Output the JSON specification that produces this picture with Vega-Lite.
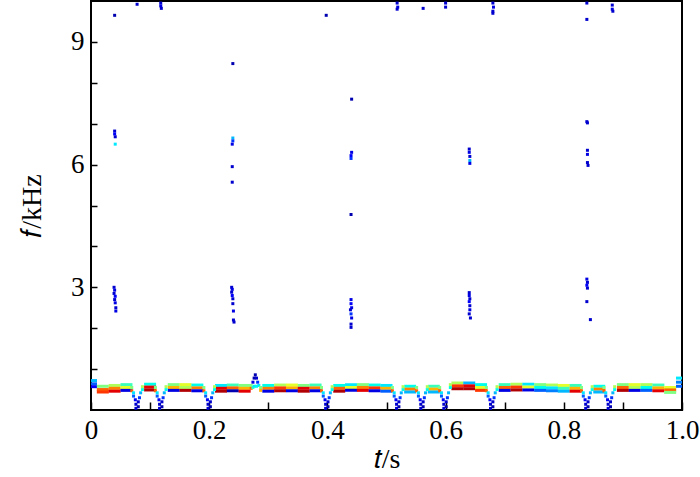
{
"$schema": "https://vega.github.io/schema/vega-lite/v6.json",
"width": 591, "height": 409,
"autosize": {"type": "none"},
"padding": {"left": 91, "top": 1, "right": 18, "bottom": 67},
"background": "white",
"config": {
 "view": {"stroke": "#000", "strokeWidth": 2},
 "axis": {"labelFont": "Liberation Serif", "labelFontSize": 27, "labelColor": "#000", "titleFont": "Liberation Serif", "titleFontSize": 28, "titleFontWeight": "normal", "titleColor": "#000", "tickColor": "#000", "tickWidth": 1.5, "domain": false, "grid": false}
},
"datasets": {
 "band": [
  {"t":0,"f":0.72,"m":0.3},{"t":0,"f":0.64,"m":0.2},{"t":0,"f":0.57,"m":0.12},
  {"t":0.02,"f":0.58,"m":0.5},{"t":0.02,"f":0.5,"m":0.8},{"t":0.02,"f":0.44,"m":0.85},
  {"t":0.04,"f":0.6,"m":0.55},{"t":0.04,"f":0.53,"m":0.75},{"t":0.04,"f":0.46,"m":0.9},
  {"t":0.06,"f":0.62,"m":0.45},{"t":0.06,"f":0.55,"m":0.6},{"t":0.06,"f":0.48,"m":0.1},
  {"t":0.1,"f":0.63,"m":0.4},{"t":0.1,"f":0.56,"m":0.9},{"t":0.1,"f":0.49,"m":0.95},
  {"t":0.14,"f":0.62,"m":0.5},{"t":0.14,"f":0.55,"m":0.7},{"t":0.14,"f":0.48,"m":0.1},
  {"t":0.16,"f":0.62,"m":0.6},{"t":0.16,"f":0.55,"m":0.55},{"t":0.16,"f":0.48,"m":0.95},
  {"t":0.18,"f":0.61,"m":0.4},{"t":0.18,"f":0.54,"m":0.75},{"t":0.18,"f":0.47,"m":0.1},
  {"t":0.22,"f":0.6,"m":0.35},{"t":0.22,"f":0.53,"m":0.9},{"t":0.22,"f":0.46,"m":0.95},
  {"t":0.24,"f":0.61,"m":0.45},{"t":0.24,"f":0.54,"m":0.8},{"t":0.24,"f":0.47,"m":0.05},
  {"t":0.26,"f":0.6,"m":0.5},{"t":0.26,"f":0.53,"m":0.7},{"t":0.26,"f":0.46,"m":0.9},
  {"t":0.3,"f":0.6,"m":0.4},{"t":0.3,"f":0.53,"m":0.75},{"t":0.3,"f":0.46,"m":0.1},
  {"t":0.32,"f":0.61,"m":0.55},{"t":0.32,"f":0.54,"m":0.85},{"t":0.32,"f":0.47,"m":0.95},
  {"t":0.34,"f":0.61,"m":0.6},{"t":0.34,"f":0.54,"m":0.7},{"t":0.34,"f":0.47,"m":0.1},
  {"t":0.36,"f":0.6,"m":0.5},{"t":0.36,"f":0.53,"m":0.9},{"t":0.36,"f":0.46,"m":0.95},
  {"t":0.38,"f":0.61,"m":0.45},{"t":0.38,"f":0.54,"m":0.75},{"t":0.38,"f":0.47,"m":0.1},
  {"t":0.42,"f":0.6,"m":0.4},{"t":0.42,"f":0.53,"m":0.8},{"t":0.42,"f":0.46,"m":0.95},
  {"t":0.44,"f":0.62,"m":0.35},{"t":0.44,"f":0.55,"m":0.6},{"t":0.44,"f":0.48,"m":0.1},
  {"t":0.46,"f":0.62,"m":0.5},{"t":0.46,"f":0.55,"m":0.75},{"t":0.46,"f":0.48,"m":0.9},
  {"t":0.48,"f":0.61,"m":0.4},{"t":0.48,"f":0.54,"m":0.85},{"t":0.48,"f":0.47,"m":0.1},
  {"t":0.5,"f":0.6,"m":0.35},{"t":0.5,"f":0.53,"m":0.7},{"t":0.5,"f":0.46,"m":0.2},
  {"t":0.54,"f":0.58,"m":0.4},{"t":0.54,"f":0.51,"m":0.75},{"t":0.54,"f":0.44,"m":0.3},
  {"t":0.58,"f":0.58,"m":0.45},{"t":0.58,"f":0.51,"m":0.7},{"t":0.58,"f":0.44,"m":0.3},
  {"t":0.62,"f":0.66,"m":0.55},{"t":0.62,"f":0.59,"m":0.85},{"t":0.62,"f":0.52,"m":0.95},
  {"t":0.64,"f":0.66,"m":0.3},{"t":0.64,"f":0.59,"m":0.9},{"t":0.64,"f":0.52,"m":0.95},
  {"t":0.66,"f":0.62,"m":0.4},{"t":0.66,"f":0.55,"m":0.6},{"t":0.66,"f":0.48,"m":0.85},
  {"t":0.7,"f":0.62,"m":0.45},{"t":0.7,"f":0.55,"m":0.8},{"t":0.7,"f":0.48,"m":0.1},
  {"t":0.72,"f":0.63,"m":0.55},{"t":0.72,"f":0.56,"m":0.85},{"t":0.72,"f":0.49,"m":0.95},
  {"t":0.74,"f":0.63,"m":0.35},{"t":0.74,"f":0.56,"m":0.6},{"t":0.74,"f":0.49,"m":0.1},
  {"t":0.76,"f":0.62,"m":0.5},{"t":0.76,"f":0.55,"m":0.4},{"t":0.76,"f":0.48,"m":0.2},
  {"t":0.78,"f":0.61,"m":0.55},{"t":0.78,"f":0.54,"m":0.35},{"t":0.78,"f":0.47,"m":0.25},
  {"t":0.8,"f":0.6,"m":0.6},{"t":0.8,"f":0.53,"m":0.45},{"t":0.8,"f":0.46,"m":0.3},
  {"t":0.82,"f":0.6,"m":0.45},{"t":0.82,"f":0.53,"m":0.7},{"t":0.82,"f":0.46,"m":0.9},
  {"t":0.86,"f":0.58,"m":0.4},{"t":0.86,"f":0.51,"m":0.75},{"t":0.86,"f":0.44,"m":0.3},
  {"t":0.9,"f":0.62,"m":0.5},{"t":0.9,"f":0.55,"m":0.8},{"t":0.9,"f":0.48,"m":0.95},
  {"t":0.92,"f":0.62,"m":0.6},{"t":0.92,"f":0.55,"m":0.55},{"t":0.92,"f":0.48,"m":0.1},
  {"t":0.94,"f":0.62,"m":0.55},{"t":0.94,"f":0.55,"m":0.4},{"t":0.94,"f":0.48,"m":0.2},
  {"t":0.96,"f":0.61,"m":0.45},{"t":0.96,"f":0.54,"m":0.7},{"t":0.96,"f":0.47,"m":0.9},
  {"t":0.98,"f":0.55,"m":0.6},{"t":0.98,"f":0.49,"m":0.8},{"t":0.98,"f":0.43,"m":0.5},
  {"t":1,"f":0.78,"m":0.35},{"t":1,"f":0.68,"m":0.25},{"t":1,"f":0.58,"m":0.2}
 ],
 "dots": [
  {"t":0.069,"f":0.55,"m":0.5},{"t":0.069,"f":0.47,"m":0.8},{"t":0.072,"f":0.42,"m":0.35},{"t":0.072,"f":0.34,"m":0.2},{"t":0.075,"f":0.25,"m":0.12},{"t":0.076,"f":0.14,"m":0.08},{"t":0.076,"f":0.04,"m":0.08},{"t":0.08,"f":0.2,"m":0.08},{"t":0.08,"f":0.08,"m":0.05},{"t":0.082,"f":0.3,"m":0.15},{"t":0.084,"f":0.42,"m":0.3},{"t":0.087,"f":0.5,"m":0.4},{"t":0.087,"f":0.57,"m":0.55},
  {"t":0.109,"f":0.55,"m":0.5},{"t":0.109,"f":0.47,"m":0.8},{"t":0.112,"f":0.42,"m":0.35},{"t":0.112,"f":0.34,"m":0.2},{"t":0.115,"f":0.25,"m":0.12},{"t":0.116,"f":0.14,"m":0.08},{"t":0.116,"f":0.04,"m":0.08},{"t":0.12,"f":0.2,"m":0.08},{"t":0.12,"f":0.08,"m":0.05},{"t":0.122,"f":0.3,"m":0.15},{"t":0.124,"f":0.42,"m":0.3},{"t":0.127,"f":0.5,"m":0.4},{"t":0.127,"f":0.57,"m":0.55},
  {"t":0.191,"f":0.55,"m":0.5},{"t":0.191,"f":0.47,"m":0.8},{"t":0.194,"f":0.42,"m":0.35},{"t":0.194,"f":0.34,"m":0.2},{"t":0.197,"f":0.25,"m":0.12},{"t":0.198,"f":0.14,"m":0.08},{"t":0.198,"f":0.04,"m":0.08},{"t":0.202,"f":0.2,"m":0.08},{"t":0.202,"f":0.08,"m":0.05},{"t":0.204,"f":0.3,"m":0.15},{"t":0.206,"f":0.42,"m":0.3},{"t":0.209,"f":0.5,"m":0.4},{"t":0.209,"f":0.57,"m":0.55},
  {"t":0.39,"f":0.55,"m":0.5},{"t":0.39,"f":0.47,"m":0.8},{"t":0.393,"f":0.42,"m":0.35},{"t":0.393,"f":0.34,"m":0.2},{"t":0.396,"f":0.25,"m":0.12},{"t":0.397,"f":0.14,"m":0.08},{"t":0.397,"f":0.04,"m":0.08},{"t":0.401,"f":0.2,"m":0.08},{"t":0.401,"f":0.08,"m":0.05},{"t":0.403,"f":0.3,"m":0.15},{"t":0.405,"f":0.42,"m":0.3},{"t":0.408,"f":0.5,"m":0.4},{"t":0.408,"f":0.57,"m":0.55},
  {"t":0.51,"f":0.55,"m":0.5},{"t":0.51,"f":0.47,"m":0.8},{"t":0.513,"f":0.42,"m":0.35},{"t":0.513,"f":0.34,"m":0.2},{"t":0.516,"f":0.25,"m":0.12},{"t":0.517,"f":0.14,"m":0.08},{"t":0.517,"f":0.04,"m":0.08},{"t":0.521,"f":0.2,"m":0.08},{"t":0.521,"f":0.08,"m":0.05},{"t":0.523,"f":0.3,"m":0.15},{"t":0.525,"f":0.42,"m":0.3},{"t":0.528,"f":0.5,"m":0.4},{"t":0.528,"f":0.57,"m":0.55},
  {"t":0.551,"f":0.55,"m":0.5},{"t":0.551,"f":0.47,"m":0.8},{"t":0.554,"f":0.42,"m":0.35},{"t":0.554,"f":0.34,"m":0.2},{"t":0.557,"f":0.25,"m":0.12},{"t":0.558,"f":0.14,"m":0.08},{"t":0.558,"f":0.04,"m":0.08},{"t":0.562,"f":0.2,"m":0.08},{"t":0.562,"f":0.08,"m":0.05},{"t":0.564,"f":0.3,"m":0.15},{"t":0.566,"f":0.42,"m":0.3},{"t":0.569,"f":0.5,"m":0.4},{"t":0.569,"f":0.57,"m":0.55},
  {"t":0.59,"f":0.55,"m":0.5},{"t":0.59,"f":0.47,"m":0.8},{"t":0.593,"f":0.42,"m":0.35},{"t":0.593,"f":0.34,"m":0.2},{"t":0.596,"f":0.25,"m":0.12},{"t":0.597,"f":0.14,"m":0.08},{"t":0.597,"f":0.04,"m":0.08},{"t":0.601,"f":0.2,"m":0.08},{"t":0.601,"f":0.08,"m":0.05},{"t":0.603,"f":0.3,"m":0.15},{"t":0.605,"f":0.42,"m":0.3},{"t":0.608,"f":0.55,"m":0.4},{"t":0.608,"f":0.62,"m":0.55},
  {"t":0.669,"f":0.55,"m":0.5},{"t":0.669,"f":0.47,"m":0.8},{"t":0.672,"f":0.42,"m":0.35},{"t":0.672,"f":0.34,"m":0.2},{"t":0.675,"f":0.25,"m":0.12},{"t":0.676,"f":0.14,"m":0.08},{"t":0.676,"f":0.04,"m":0.08},{"t":0.68,"f":0.2,"m":0.08},{"t":0.68,"f":0.08,"m":0.05},{"t":0.682,"f":0.3,"m":0.15},{"t":0.684,"f":0.42,"m":0.3},{"t":0.687,"f":0.5,"m":0.4},{"t":0.687,"f":0.57,"m":0.55},
  {"t":0.83,"f":0.55,"m":0.5},{"t":0.83,"f":0.47,"m":0.8},{"t":0.833,"f":0.42,"m":0.35},{"t":0.833,"f":0.34,"m":0.2},{"t":0.836,"f":0.25,"m":0.12},{"t":0.837,"f":0.14,"m":0.08},{"t":0.837,"f":0.04,"m":0.08},{"t":0.841,"f":0.2,"m":0.08},{"t":0.841,"f":0.08,"m":0.05},{"t":0.843,"f":0.3,"m":0.15},{"t":0.845,"f":0.42,"m":0.3},{"t":0.848,"f":0.5,"m":0.4},{"t":0.848,"f":0.57,"m":0.55},
  {"t":0.868,"f":0.55,"m":0.5},{"t":0.868,"f":0.47,"m":0.8},{"t":0.871,"f":0.42,"m":0.35},{"t":0.871,"f":0.34,"m":0.2},{"t":0.874,"f":0.25,"m":0.12},{"t":0.875,"f":0.14,"m":0.08},{"t":0.875,"f":0.04,"m":0.08},{"t":0.879,"f":0.2,"m":0.08},{"t":0.879,"f":0.08,"m":0.05},{"t":0.881,"f":0.3,"m":0.15},{"t":0.883,"f":0.42,"m":0.3},{"t":0.886,"f":0.5,"m":0.4},{"t":0.886,"f":0.57,"m":0.55},
  {"t":0.271,"f":0.6,"m":0.5},{"t":0.271,"f":0.53,"m":0.8},{"t":0.274,"f":0.68,"m":0.1},{"t":0.274,"f":0.55,"m":0.45},{"t":0.276,"f":0.78,"m":0.05},{"t":0.276,"f":0.58,"m":0.35},{"t":0.278,"f":0.86,"m":0.05},{"t":0.28,"f":0.78,"m":0.08},{"t":0.28,"f":0.58,"m":0.4},{"t":0.282,"f":0.68,"m":0.15},{"t":0.284,"f":0.6,"m":0.35},{"t":0.287,"f":0.55,"m":0.5},{"t":0.287,"f":0.48,"m":0.7},
  {"t":0.039,"f":3.0,"m":0.08},{"t":0.04,"f":2.93,"m":0.1},{"t":0.039,"f":2.85,"m":0.08},{"t":0.041,"f":2.78,"m":0.12},{"t":0.04,"f":2.7,"m":0.08},{"t":0.041,"f":2.62,"m":0.1},{"t":0.042,"f":2.5,"m":0.08},{"t":0.042,"f":2.42,"m":0.1},
  {"t":0.04,"f":6.82,"m":0.08},{"t":0.04,"f":6.75,"m":0.12},{"t":0.041,"f":6.68,"m":0.08},{"t":0.041,"f":6.5,"m":0.35},{"t":0.04,"f":9.65,"m":0.05},
  {"t":0.078,"f":9.92,"m":0.08},{"t":0.118,"f":9.95,"m":0.08},{"t":0.118,"f":9.88,"m":0.1},{"t":0.119,"f":9.82,"m":0.08},
  {"t":0.238,"f":3.0,"m":0.08},{"t":0.239,"f":2.95,"m":0.1},{"t":0.238,"f":2.88,"m":0.08},{"t":0.239,"f":2.8,"m":0.12},{"t":0.24,"f":2.72,"m":0.08},{"t":0.24,"f":2.6,"m":0.08},{"t":0.241,"f":2.42,"m":0.1},{"t":0.241,"f":2.2,"m":0.08},{"t":0.242,"f":2.15,"m":0.08},
  {"t":0.24,"f":6.65,"m":0.3},{"t":0.24,"f":6.58,"m":0.15},{"t":0.239,"f":6.5,"m":0.1},{"t":0.239,"f":5.95,"m":0.08},{"t":0.239,"f":5.57,"m":0.08},{"t":0.24,"f":8.47,"m":0.05},
  {"t":0.398,"f":9.65,"m":0.05},
  {"t":0.44,"f":2.7,"m":0.1},{"t":0.44,"f":2.6,"m":0.12},{"t":0.441,"f":2.5,"m":0.1},{"t":0.439,"f":2.45,"m":0.08},{"t":0.44,"f":2.35,"m":0.15},{"t":0.441,"f":2.25,"m":0.1},{"t":0.44,"f":2.1,"m":0.08},{"t":0.44,"f":2.02,"m":0.08},
  {"t":0.441,"f":6.3,"m":0.1},{"t":0.44,"f":6.22,"m":0.12},{"t":0.44,"f":6.15,"m":0.15},{"t":0.441,"f":7.6,"m":0.05},{"t":0.44,"f":4.78,"m":0.05},
  {"t":0.518,"f":9.95,"m":0.08},{"t":0.519,"f":9.85,"m":0.1},{"t":0.518,"f":9.8,"m":0.08},{"t":0.562,"f":9.82,"m":0.08},{"t":0.6,"f":9.95,"m":0.08},{"t":0.6,"f":9.85,"m":0.08},
  {"t":0.68,"f":9.95,"m":0.08},{"t":0.681,"f":9.85,"m":0.1},{"t":0.68,"f":9.75,"m":0.08},{"t":0.68,"f":9.7,"m":0.08},
  {"t":0.64,"f":2.87,"m":0.08},{"t":0.64,"f":2.8,"m":0.1},{"t":0.641,"f":2.72,"m":0.08},{"t":0.64,"f":2.65,"m":0.12},{"t":0.641,"f":2.55,"m":0.08},{"t":0.641,"f":2.45,"m":0.1},{"t":0.64,"f":2.35,"m":0.08},{"t":0.642,"f":2.25,"m":0.08},
  {"t":0.64,"f":6.38,"m":0.08},{"t":0.64,"f":6.3,"m":0.1},{"t":0.641,"f":6.2,"m":0.08},{"t":0.641,"f":6.1,"m":0.3},{"t":0.641,"f":6.03,"m":0.1},
  {"t":0.839,"f":3.2,"m":0.1},{"t":0.84,"f":3.12,"m":0.08},{"t":0.839,"f":3.05,"m":0.12},{"t":0.84,"f":2.98,"m":0.08},{"t":0.839,"f":2.65,"m":0.08},{"t":0.845,"f":2.21,"m":0.08},
  {"t":0.839,"f":7.05,"m":0.08},{"t":0.84,"f":7.02,"m":0.08},{"t":0.84,"f":6.35,"m":0.08},{"t":0.84,"f":6.25,"m":0.1},{"t":0.84,"f":6.05,"m":0.08},{"t":0.841,"f":5.98,"m":0.08},
  {"t":0.839,"f":9.95,"m":0.08},{"t":0.839,"f":9.55,"m":0.08},{"t":0.882,"f":9.9,"m":0.08},{"t":0.882,"f":9.8,"m":0.1},{"t":0.883,"f":9.75,"m":0.08}
 ]
},
"encoding": {
 "x": {"field": "t", "type": "quantitative", "scale": {"domain": [0, 1], "nice": false, "zero": false},
  "axis": {"title": "𝑡/s", "values": [0,0.1,0.2,0.3,0.4,0.5,0.6,0.7,0.8,0.9,1.0], "tickSize": -8, "labelPadding": 15, "titlePadding": 2,
   "labelExpr": "datum.value == 0 ? '0' : (round(datum.value*10) % 2 == 0 ? format(datum.value, '.1f') : '')", "labelFlush": false}},
 "y": {"field": "f", "type": "quantitative", "scale": {"domain": [0, 10], "nice": false},
  "axis": {"title": "𝑓/kHz", "values": [1,2,3,4,5,6,7,8,9], "tickSize": -6, "labelPadding": 13, "titlePadding": 24,
   "labelExpr": "datum.value % 3 == 0 ? datum.label : ''"}},
 "color": {"field": "m", "type": "quantitative", "legend": null,
  "scale": {"domain": [0, 1], "range": ["#00007f","#0000ff","#0080ff","#00ffff","#80ff80","#ffff00","#ff8000","#ff0000","#7f0000"]}}
},
"layer": [
 {"data": {"name": "band"}, "mark": {"type": "tick", "orient": "horizontal", "size": 12, "thickness": 3, "opacity": 1, "clip": true}},
 {"data": {"name": "dots"}, "mark": {"type": "square", "size": 9, "filled": true, "opacity": 1, "clip": true}}
]
}
